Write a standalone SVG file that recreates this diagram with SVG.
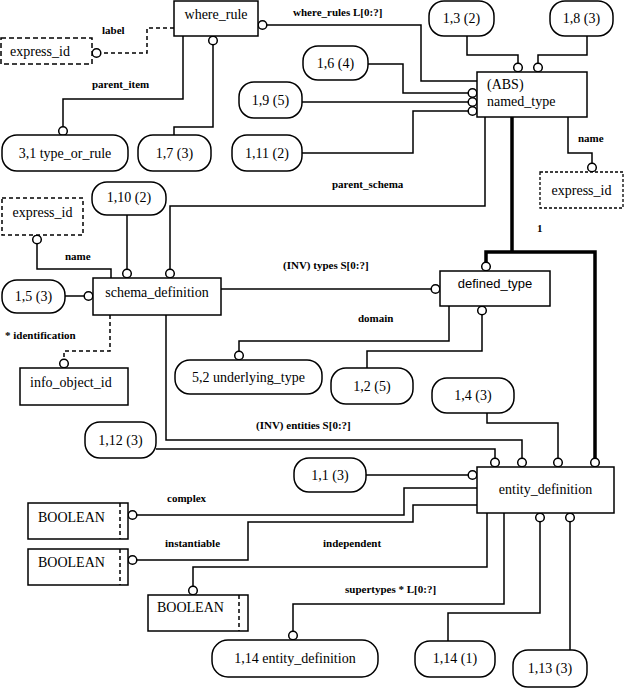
<svg xmlns="http://www.w3.org/2000/svg" width="624" height="688" viewBox="0 0 624 688">
<style>
.b{fill:#fff;stroke:#000;stroke-width:1.5}
.d{fill:#fff;stroke:#000;stroke-width:1.5;stroke-dasharray:5 3}
.dt{fill:#fff;stroke:#000;stroke-width:1.3;stroke-dasharray:3 2}
.ln{fill:none;stroke:#000;stroke-width:1.5}
.dl{fill:none;stroke:#000;stroke-width:1.5;stroke-dasharray:4 3}
.th{fill:none;stroke:#000;stroke-width:3.5}
.c{fill:#fff;stroke:#000;stroke-width:1.5}
.t{font-family:"Liberation Serif","Times New Roman",serif;font-size:14px;fill:#000}
.s{font-family:"Liberation Sans",Arial,sans-serif;font-size:13px;fill:#000}
.l{font-family:"Liberation Serif","Times New Roman",serif;font-size:11px;font-weight:bold;fill:#000}
.m{text-anchor:middle}
</style>

<g id="connectors">
  <!-- where_rules -->
  <polyline class="ln" points="267,25 421,25 421,81 477,81"/>
  <circle class="c" cx="262.5" cy="25" r="4.3"/>
  <!-- label -->
  <polyline class="dl" points="174,28 147,28 147,53 101,53"/>
  <circle class="c" cx="96.5" cy="53" r="4.3"/>
  <!-- parent_item -->
  <polyline class="ln" points="183,36 183,99 63,99 63,127"/>
  <circle class="c" cx="63" cy="131" r="4.3"/>
  <!-- 1,7 -->
  <polyline class="ln" points="213,45 213,127 174,127 174,135"/>
  <circle class="c" cx="213" cy="40.5" r="4.3"/>
  <!-- 1,6 / 1,9 / 1,11 -->
  <polyline class="ln" points="368,64 403,64 403,93 468,93"/>
  <polyline class="ln" points="302,102 468,102"/>
  <polyline class="ln" points="302,153 413,153 413,111 468,111"/>
  <circle class="c" cx="472.5" cy="93" r="4.3"/>
  <circle class="c" cx="472.5" cy="102" r="4.3"/>
  <circle class="c" cx="472.5" cy="111" r="4.3"/>
  <!-- 1,3 / 1,8 -->
  <polyline class="ln" points="467,36 467,55 518,55 518,63"/>
  <circle class="c" cx="518" cy="67.5" r="4.3"/>
  <polyline class="ln" points="587,36 587,55 538,55 538,63"/>
  <circle class="c" cx="538" cy="67.5" r="4.3"/>
  <!-- name (named_type) -->
  <polyline class="ln" points="568,117 568,153 592,153 592,163"/>
  <circle class="c" cx="592" cy="167.5" r="4.3"/>
  <!-- parent_schema -->
  <polyline class="ln" points="485,117 485,206 170,206 170,270"/>
  <circle class="c" cx="170" cy="273.5" r="4.3"/>
  <!-- 1,10 -->
  <polyline class="ln" points="127,215 127,269"/>
  <circle class="c" cx="127" cy="273.5" r="4.3"/>
  <!-- name (schema) -->
  <polyline class="ln" points="37,244 37,269 111,269 111,278"/>
  <circle class="c" cx="37" cy="239.5" r="4.3"/>
  <!-- 1,5 -->
  <polyline class="ln" points="65,296 84,296"/>
  <circle class="c" cx="88.5" cy="296" r="4.3"/>
  <!-- identification -->
  <polyline class="dl" points="110,315 110,351 64,351 64,359"/>
  <circle class="c" cx="64" cy="363.5" r="4.3"/>
  <!-- (INV) types -->
  <polyline class="ln" points="221,289 431,289"/>
  <circle class="c" cx="435.5" cy="289" r="4.3"/>
  <!-- domain -->
  <polyline class="ln" points="449,306 449,341 239,341 239,351"/>
  <circle class="c" cx="239" cy="355.5" r="4.3"/>
  <!-- 1,2 -->
  <polyline class="ln" points="482,315 482,351 367,351 367,368"/>
  <circle class="c" cx="482" cy="310.5" r="4.3"/>
  <!-- supertype thick -->
  <path class="th" d="M512,117 V252 M486,262 V252 H595 V458"/>
  <circle class="c" cx="486" cy="266.5" r="4.3"/>
  <circle class="c" cx="595" cy="462.5" r="4.3"/>
  <!-- 1,12 -->
  <polyline class="ln" points="156,449 495,449 495,458"/>
  <circle class="c" cx="495" cy="462.5" r="4.3"/>
  <!-- (INV) entities -->
  <polyline class="ln" points="166,315 166,440 522,440 522,458"/>
  <circle class="c" cx="522" cy="462.5" r="4.3"/>
  <!-- 1,4 -->
  <polyline class="ln" points="487,413 487,423 558,423 558,458"/>
  <circle class="c" cx="558" cy="462.5" r="4.3"/>
  <!-- 1,1 -->
  <polyline class="ln" points="366,475 468,475"/>
  <circle class="c" cx="472.5" cy="475" r="4.3"/>
  <!-- complex -->
  <polyline class="ln" points="137,515 404,515 404,488 477,488"/>
  <circle class="c" cx="132.5" cy="515" r="4.3"/>
  <!-- instantiable -->
  <polyline class="ln" points="137,560 248,560 248,522 413,522 413,505 477,505"/>
  <circle class="c" cx="132.5" cy="560" r="4.3"/>
  <!-- independent -->
  <polyline class="ln" points="193,586 193,567 487,567 487,513"/>
  <circle class="c" cx="193" cy="590.5" r="4.3"/>
  <!-- supertypes -->
  <polyline class="ln" points="293,631 293,604 504,604 504,513"/>
  <circle class="c" cx="293" cy="635.5" r="4.3"/>
  <!-- 1,14 (1) -->
  <polyline class="ln" points="540,522 540,613 448,613 448,641"/>
  <circle class="c" cx="540" cy="517.5" r="4.3"/>
  <!-- 1,13 -->
  <polyline class="ln" points="570,522 570,650"/>
  <circle class="c" cx="570" cy="517.5" r="4.3"/>
</g>

<g id="labels">
  <text class="l" x="293" y="16">where_rules L[0:?]</text>
  <text class="l" x="102" y="34">label</text>
  <text class="l" x="92" y="88">parent_item</text>
  <text class="l" x="578" y="142">name</text>
  <text class="l" x="332" y="188">parent_schema</text>
  <text class="l" x="537" y="232">1</text>
  <text class="l" x="65" y="260">name</text>
  <text class="l" x="5" y="339">* identification</text>
  <text class="l" x="283" y="269">(INV) types S[0:?]</text>
  <text class="l" x="358" y="322">domain</text>
  <text class="l" x="256" y="429">(INV) entities S[0:?]</text>
  <text class="l" x="167" y="502">complex</text>
  <text class="l" x="165" y="547">instantiable</text>
  <text class="l" x="323" y="547">independent</text>
  <text class="l" x="345" y="593">supertypes * L[0:?]</text>
</g>

<g id="where_rule"><rect class="b" x="174" y="1" width="84" height="35"/><text class="t m" x="216" y="19">where_rule</text></g>
<g id="express_id_1"><rect class="d" x="1" y="38" width="91" height="26"/><text class="t" x="10" y="56">express_id</text></g>
<g id="type_or_rule"><rect class="b" x="2" y="135" width="126" height="36" rx="15"/><text class="t m" x="65" y="158">3,1 type_or_rule</text></g>
<g id="ref_1_7"><rect class="b" x="138" y="135" width="73" height="36" rx="15"/><text class="t m" x="174.5" y="158">1,7 (3)</text></g>
<g id="ref_1_9"><rect class="b" x="239" y="82" width="63" height="36" rx="15"/><text class="t m" x="270.5" y="105">1,9 (5)</text></g>
<g id="ref_1_11"><rect class="b" x="232" y="135" width="70" height="36" rx="15"/><text class="t m" x="267" y="158">1,11 (2)</text></g>
<g id="ref_1_6"><rect class="b" x="303" y="46" width="65" height="34" rx="15"/><text class="t m" x="335.5" y="68">1,6 (4)</text></g>
<g id="ref_1_3"><rect class="b" x="429" y="1" width="65" height="35" rx="15"/><text class="t m" x="461.5" y="23">1,3 (2)</text></g>
<g id="ref_1_8"><rect class="b" x="550" y="1" width="63" height="35" rx="15"/><text class="t m" x="581.5" y="23">1,8 (3)</text></g>
<g id="named_type"><rect class="b" x="477" y="72" width="110" height="45"/><text class="t" x="487" y="89">(ABS)</text><text class="t" x="487" y="106">named_type</text></g>
<g id="express_id_2"><rect class="dt" x="540" y="172" width="83" height="36"/><text class="t m" x="581.5" y="195">express_id</text></g>
<g id="ref_1_10"><rect class="b" x="92" y="182" width="74" height="33" rx="15"/><text class="t m" x="129" y="202">1,10 (2)</text></g>
<g id="express_id_3"><rect class="d" x="2" y="198" width="81" height="37" style="stroke-dasharray:4 3"/><text class="t m" x="42.5" y="217">express_id</text></g>
<g id="schema_definition"><rect class="b" x="93" y="278" width="128" height="37"/><text class="t m" x="157" y="297">schema_definition</text></g>
<g id="ref_1_5"><rect class="b" x="2" y="280" width="63" height="33" rx="15"/><text class="t m" x="33.5" y="301">1,5 (3)</text></g>
<g id="info_object_id"><rect class="b" x="20" y="368" width="108" height="37"/><text class="t" x="30" y="387">info_object_id</text></g>
<g id="defined_type"><rect class="b" x="440" y="271" width="110" height="35"/><text class="s m" x="495" y="288">defined_type</text></g>
<g id="underlying_type"><rect class="b" x="175" y="360" width="147" height="34" rx="15"/><text class="t m" x="248.5" y="382">5,2 underlying_type</text></g>
<g id="ref_1_2"><rect class="b" x="331" y="368" width="82" height="36" rx="15"/><text class="t m" x="372" y="391">1,2 (5)</text></g>
<g id="ref_1_4"><rect class="b" x="432" y="378" width="82" height="35" rx="15"/><text class="t m" x="473" y="400">1,4 (3)</text></g>
<g id="ref_1_12"><rect class="b" x="85" y="422" width="71" height="36" rx="15"/><text class="t m" x="120.5" y="445">1,12 (3)</text></g>
<g id="ref_1_1"><rect class="b" x="294" y="458" width="72" height="34" rx="15"/><text class="t m" x="330" y="480">1,1 (3)</text></g>
<g id="entity_definition"><rect class="b" x="477" y="467" width="137" height="46"/><text class="t m" x="545.5" y="494">entity_definition</text></g>
<g id="boolean_complex"><rect class="b" x="28" y="503" width="100" height="36"/><line class="dl" x1="120" y1="503" x2="120" y2="539"/><text class="t" x="38" y="522">BOOLEAN</text></g>
<g id="boolean_instantiable"><rect class="b" x="28" y="549" width="100" height="36"/><line class="dl" x1="120" y1="549" x2="120" y2="585"/><text class="t" x="38" y="567">BOOLEAN</text></g>
<g id="boolean_independent"><rect class="b" x="148" y="595" width="100" height="36"/><line class="dl" x1="239" y1="595" x2="239" y2="631"/><text class="t" x="157" y="612">BOOLEAN</text></g>
<g id="ref_1_14_entity"><rect class="b" x="212" y="640" width="166" height="37" rx="16"/><text class="t m" x="295" y="663">1,14 entity_definition</text></g>
<g id="ref_1_14"><rect class="b" x="415" y="641" width="80" height="36" rx="15"/><text class="t m" x="455" y="663">1,14 (1)</text></g>
<g id="ref_1_13"><rect class="b" x="513" y="650" width="74" height="37" rx="15"/><text class="t m" x="550" y="673">1,13 (3)</text></g>
</svg>
